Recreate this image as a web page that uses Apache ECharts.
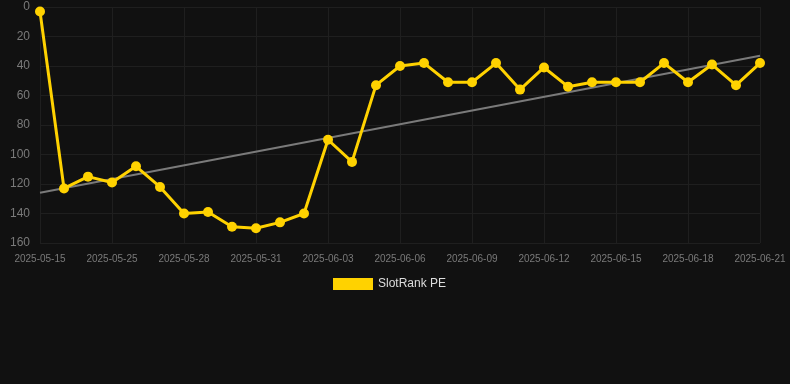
<!DOCTYPE html>
<html>
<head>
<meta charset="utf-8">
<script src="https://cdn.jsdelivr.net/npm/echarts@6/dist/echarts.min.js"></script>
<style>
  html, body { margin: 0; padding: 0; background: #111111; }
  #chart { width: 790px; height: 384px; }
</style>
</head>
<body>
<div id="chart"></div>
<script>
// fechas del eje x
const dates = [
    '2025-05-15', '2025-05-23', '2025-05-24', '2025-05-25', '2025-05-26', '2025-05-27',
    '2025-05-28', '2025-05-29', '2025-05-30', '2025-05-31', '2025-06-01', '2025-06-02',
    '2025-06-03', '2025-06-04', '2025-06-05', '2025-06-06', '2025-06-07', '2025-06-08',
    '2025-06-09', '2025-06-10', '2025-06-11', '2025-06-12', '2025-06-13', '2025-06-14',
    '2025-06-15', '2025-06-16', '2025-06-17', '2025-06-18', '2025-06-19', '2025-06-20',
    '2025-06-21'
];

// posición (rank) por día
const rankValues = [
    3, 123, 115, 119, 108, 122, 140, 139, 149, 150, 146, 140,
    90, 105, 53, 40, 38, 51, 51, 38, 56, 41, 54, 51,
    51, 51, 38, 51, 39, 53, 38
];

// línea de tendencia: extremos
const trendStart = 126;
const trendEnd = 33;

const yTicks = [0, 20, 40, 60, 80, 100, 120, 140, 160];

const trendValues = dates.map((d, i) => {
    if (i === 0) return trendStart;
    if (i === dates.length - 1) return trendEnd;
    return null;
});

const chart = echarts.init(document.getElementById('chart'));

chart.setOption({
    backgroundColor: '#111111',
    animation: false,
    textStyle: { fontFamily: 'Liberation Sans, Arial, sans-serif' },
    grid: { left: 40, right: 30, top: 7, bottom: 141, containLabel: false },
    legend: {
        data: ['SlotRank PE'],
        top: 278,
        left: 333,
        padding: 0,
        icon: 'rect',
        itemWidth: 40,
        itemHeight: 12,
        textStyle: { color: '#dddddd', fontSize: 12 }
    },
    xAxis: {
        type: 'category',
        data: dates,
        boundaryGap: false,
        axisLine: { show: false },
        axisTick: { show: true, interval: 2, length: 4, lineStyle: { color: '#1f1f1f' } },
        axisLabel: { interval: 2, color: '#7a7a7a', fontSize: 10, margin: 11 },
        splitLine: { show: true, interval: 2, lineStyle: { color: '#1f1f1f', width: 1 } }
    },
    yAxis: {
        type: 'value',
        inverse: true,
        min: yTicks[0],
        max: yTicks[yTicks.length - 1],
        interval: 20,
        axisLine: { show: false },
        axisTick: { show: false },
        axisLabel: { color: '#7a7a7a', fontSize: 12, margin: 10 },
        splitLine: { lineStyle: { color: '#1f1f1f', width: 1 } }
    },
    series: [
        {
            name: 'SlotRank PE',
            type: 'line',
            data: rankValues,
            symbol: 'circle',
            symbolSize: 10,
            showAllSymbol: true,
            itemStyle: { color: '#ffd200' },
            lineStyle: { color: '#ffd200', width: 3 },
            z: 3
        },
        {
            name: 'Tendencia',
            type: 'line',
            data: trendValues,
            connectNulls: true,
            symbol: 'none',
            lineStyle: { color: '#7a7a7a', width: 2 },
            z: 2
        }
    ]
});
</script>
</body>
</html>
